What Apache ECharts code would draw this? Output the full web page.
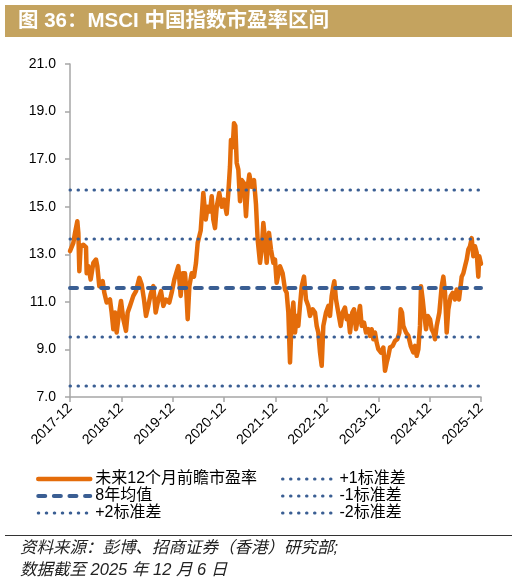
<!DOCTYPE html>
<html>
<head>
<meta charset="utf-8">
<script src="https://cdn.jsdelivr.net/npm/echarts@6/dist/echarts.min.js"></script>
<style>
html,body{margin:0;padding:0;background:#fff;}
#c{width:517px;height:584px;}
</style>
</head>
<body>
<div id="c"></div>
<script>
// x positions: months elapsed since 2017-12
const months = [
0,0.78,1.17,1.71,1.95,2.18,2.49,3.11,3.74,3.89,4.28,4.83,5.45,6.07,6.38,6.85,7.63,8.02,8.56,9.34,
9.73,10.12,10.51,10.9,11.37,11.91,12.46,13.08,13.47,14.01,14.79,15.42,16.19,16.74,17.28,17.75,18.29,18.84,19.46,20.01,
20.63,21.26,21.8,22.42,23.2,23.75,24.37,25.3,25.85,26.32,26.86,27.1,27.49,27.88,28.42,28.96,29.43,29.82,30.2,30.53,
31.14,31.7,32.16,32.7,33.1,33.47,33.87,34.27,34.87,35.43,35.97,36.6,36.98,37.37,37.6,38.0,38.31,38.62,38.94,39.32,
39.71,40.1,40.64,41.11,41.5,41.89,42.43,42.98,43.44,43.83,44.38,44.77,45.16,45.55,45.94,46.48,46.95,47.5,47.88,48.27,
49.05,49.67,50.22,50.61,51.0,51.39,51.78,52.17,52.56,52.95,53.33,53.72,54.12,54.66,55.12,55.66,56.06,56.69,57.23,57.62,
58.0,58.4,58.79,59.17,59.8,60.34,60.73,61.12,61.5,61.74,62.13,62.67,63.22,63.69,64.23,64.62,65.0,65.4,65.94,66.34,
66.8,67.35,67.74,68.13,68.67,69.14,69.68,70.07,70.46,70.85,71.24,71.63,72.02,72.64,73.19,73.58,73.97,74.36,74.75,75.37,
75.91,76.46,76.93,77.24,77.55,77.86,78.48,79.03,79.57,80.19,80.59,80.98,81.37,81.75,81.99,82.38,82.69,83.16,83.55,84.09,
84.48,84.87,85.26,85.65,86.27,86.82,87.21,87.6,87.99,88.37,88.92,89.39,89.93,90.32,90.86,91.49,91.88,92.27,92.66,93.04,
93.43,93.83,94.21,94.6,95.0,95.37,95.6,96.0
];
// 未来12个月前瞻市盈率
const pe = [
13.13,13.48,13.9,14.39,13.9,12.29,13.34,13.4,13.3,12.2,12.5,11.94,12.64,12.78,12.5,11.66,11.87,11.38,10.97,11.1,
10.55,9.85,10.55,9.71,10.4,11.04,10.27,9.78,10.55,10.83,11.25,11.45,12.01,11.73,11.1,10.41,10.83,11.32,11.66,10.55,
11.1,11.45,10.83,11.1,10.97,11.38,11.94,12.5,11.25,12.2,12.2,11.66,10.27,11.66,12.2,12.06,12.64,13.48,13.76,14.0,
15.58,14.46,15.0,14.8,15.44,14.46,14.1,15.0,15.58,15.0,15.3,14.7,15.58,16.69,17.81,17.5,18.51,18.4,16.84,16.56,
15.23,16.12,15.98,14.6,15.84,16.35,15.84,16.12,15.1,13.62,12.64,13.2,14.32,13.62,12.64,13.9,13.2,12.64,12.78,11.8,
12.5,12.2,11.52,11.38,10.55,8.45,10.27,10.97,9.71,10.41,9.99,10.83,11.66,12.06,11.1,10.83,10.41,10.69,10.55,9.99,
9.71,8.87,8.31,9.99,10.55,10.83,10.41,11.24,11.66,11.87,11.1,10.55,9.99,10.55,10.76,10.27,10.41,9.71,10.55,10.69,
9.85,10.41,10.83,9.99,10.13,9.71,9.85,9.57,9.85,9.43,9.71,9.29,9.01,8.87,9.08,8.1,8.45,8.73,9.08,9.15,
9.36,9.43,9.71,10.69,10.55,9.99,9.71,9.57,9.15,8.87,9.15,8.73,9.01,9.99,11.66,11.1,10.55,9.85,10.41,10.27,
9.85,9.71,9.43,9.99,10.55,11.66,12.06,11.38,9.71,10.69,11.24,11.38,11.1,11.52,11.1,12.06,12.2,12.5,12.78,13.2,
13.34,13.68,12.92,13.34,13.06,12.06,12.92,12.6
];
// band levels
const meanPE = 11.58;
const plus1 = 13.64, minus1 = 9.52, plus2 = 15.70, minus2 = 7.46;
const xStart = 0, xEnd = 96;
const yTicks = [7, 9, 11, 13, 15, 17, 19, 21];
const firstYear = 2017;

const names = ['未来12个月前瞻市盈率','8年均值','+2标准差','+1标准差','-1标准差','-2标准差'];
const ORANGE = '#E46C0A', BLUE = '#3A5E93';
const CJK = '"Liberation Sans","Noto Sans CJK SC",sans-serif';

const mainData = months.map((m, i) => [m, pe[i]]);
const hLine = v => [[xStart, v], [xEnd, v]];
const dotStyle = {color: BLUE, width: 3, type: [0.5, 7.5], cap: 'round'};

const legendBase = {
  orient: 'vertical', top: 466, itemWidth: 52, itemHeight: 14, itemGap: 1,
  itemStyle: {opacity: 0},
  lineStyle: {width: 'inherit'},
  textStyle: {fontSize: 16, color: '#000', fontFamily: CJK, lineHeight: 14, padding: [0, 0, 0, 0]}
};

const chart = echarts.init(document.getElementById('c'), null, {renderer: 'canvas'});
chart.setOption({
  animation: false,
  backgroundColor: '#fff',
  grid: {left: 70, right: 36, top: 64, bottom: 187, containLabel: false},
  xAxis: {
    type: 'value', min: xStart, max: xEnd, interval: 12,
    axisLine: {lineStyle: {color: '#A6A6A6', width: 1.5}},
    axisTick: {show: true, length: 5, lineStyle: {color: '#A6A6A6', width: 1.5}},
    splitLine: {show: false},
    axisLabel: {
      rotate: 45, margin: 9, fontSize: 14, color: '#000', fontFamily: '"Liberation Sans",Arial,sans-serif',
      formatter: v => (firstYear + Math.round(v / 12)) + '-12'
    }
  },
  yAxis: {
    type: 'value', min: yTicks[0], max: yTicks[yTicks.length - 1], interval: 2,
    axisLine: {show: true, lineStyle: {color: '#A6A6A6', width: 1.5}},
    axisTick: {show: true, length: 5, lineStyle: {color: '#A6A6A6', width: 1.5}},
    splitLine: {show: false},
    axisLabel: {margin: 14, fontSize: 14, color: '#000', fontFamily: '"Liberation Sans",Arial,sans-serif',
      formatter: v => v.toFixed(1)}
  },
  legend: [
    Object.assign({data: [names[0], names[1], names[2]], left: 31}, legendBase),
    Object.assign({data: [names[3], names[4], names[5]], left: 276}, legendBase)
  ],
  series: [
    {name: names[0], type: 'line', data: mainData, showSymbol: false, symbol: 'none',
     lineStyle: {color: ORANGE, width: 4.5, join: 'round', cap: 'round'}, itemStyle: {color: ORANGE}},
    {name: names[1], type: 'line', data: hLine(meanPE), symbol: 'none',
     lineStyle: {color: BLUE, width: 4, type: [7, 8.6], cap: 'round'}, itemStyle: {color: BLUE}},
    {name: names[2], type: 'line', data: hLine(plus2), symbol: 'none', lineStyle: dotStyle, itemStyle: {color: BLUE}},
    {name: names[3], type: 'line', data: hLine(plus1), symbol: 'none', lineStyle: dotStyle, itemStyle: {color: BLUE}},
    {name: names[4], type: 'line', data: hLine(minus1), symbol: 'none', lineStyle: dotStyle, itemStyle: {color: BLUE}},
    {name: names[5], type: 'line', data: hLine(minus2), symbol: 'none', lineStyle: dotStyle, itemStyle: {color: BLUE}}
  ],
  graphic: [
    {type: 'rect', left: 5, top: 5, shape: {width: 507, height: 32}, style: {fill: '#C4A35F'}, silent: true},
    {type: 'text', left: 18, top: 11, style: {text: '图 36：MSCI 中国指数市盈率区间', fill: '#fff',
      font: 'bold 20.5px "Liberation Sans","Noto Sans CJK SC",sans-serif'}},
    {type: 'line', shape: {x1: 5, y1: 535.5, x2: 512, y2: 535.5}, style: {stroke: '#333', lineWidth: 1}},
    {type: 'text', left: 20, top: 540, style: {text: '资料来源：彭博、招商证券（香港）研究部;', fill: '#222',
      font: 'italic 16.5px "Liberation Sans","Noto Sans CJK SC",sans-serif'}},
    {type: 'text', left: 20, top: 562, style: {text: '数据截至 2025 年 12 月 6 日', fill: '#222',
      font: 'italic 16.5px "Liberation Sans","Noto Sans CJK SC",sans-serif'}}
  ]
});
</script>
</body>
</html>
